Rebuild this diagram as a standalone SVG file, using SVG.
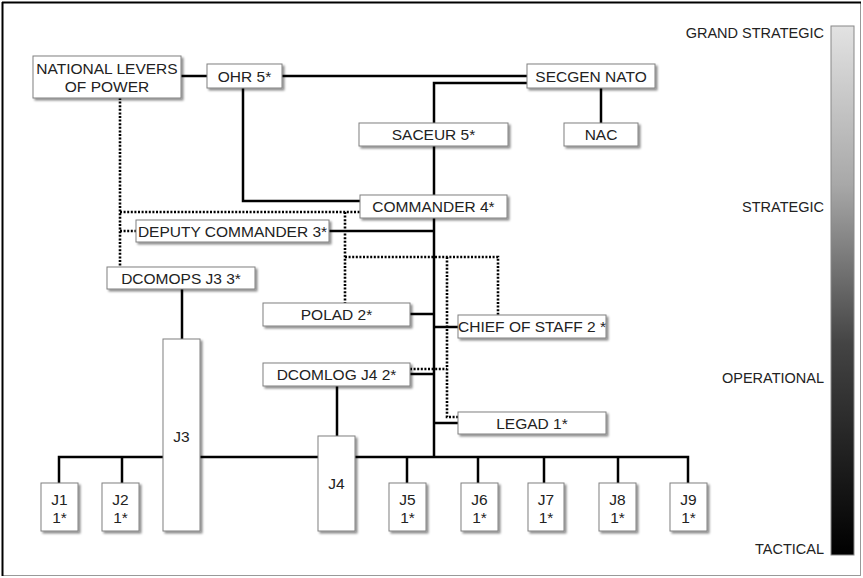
<svg xmlns="http://www.w3.org/2000/svg" width="863" height="578" viewBox="0 0 863 578">
<style>
.box{fill:#fff;stroke:#808080;stroke-width:1;filter:url(#sh)}
.t{font-family:"Liberation Sans",Arial,sans-serif;font-size:15.5px;fill:#222;text-anchor:middle}
.lv{font-family:"Liberation Sans",Arial,sans-serif;font-size:14.5px;fill:#222;text-anchor:end}
.s{fill:none;stroke:#000;stroke-width:2.5}
.d{fill:none;stroke:#000;stroke-width:2.6;stroke-dasharray:2 1.6}
</style>
<defs>
<filter id="sh" x="-20%" y="-20%" width="140%" height="140%">
<feDropShadow dx="2" dy="2" stdDeviation="1" flood-color="#000" flood-opacity="0.45"/>
</filter>
<linearGradient id="g" x1="0" y1="0" x2="0" y2="1">
<stop offset="0" stop-color="#e2e2e2"/>
<stop offset="0.3" stop-color="#a8a8a8"/>
<stop offset="0.6" stop-color="#444"/>
<stop offset="1" stop-color="#000"/>
</linearGradient>
</defs>
<rect x="0" y="0" width="863" height="578" fill="#fff"/>
<rect x="2.5" y="2.5" width="858" height="573" fill="none" stroke="#999" stroke-width="1"/>
<path d="M2,2.5 H861 M2.5,2 V576" stroke="#000" stroke-width="2" fill="none"/>

<g id="connectors">
<path class="s" d="M181,76 H207 M282,76 H527 M527,83 H434 V123 M434,146 V195 M601,87 V123 M243,88 V201 H360 M434,218 V457 M329,231 H434 M182,289 V339 M410,314 H434 M434,327 H458 M410,374 H434 M434,423 H458 M337,386 V436 M59,483 V457 H688 V483 M122,457 V483 M407,457 V483 M478,457 V483 M544,457 V483 M618,457 V483"/>
<path class="d" d="M120,98 V267 M120,212 H360 M120,231 H136 M345,212 V303 M345,257 H498 V315 M447,257 V417 H458 M410,369 H447"/>
</g>

<g id="nlp"><rect class="box" x="33" y="56" width="148" height="42"/><text class="t" x="107" y="74">NATIONAL LEVERS</text><text class="t" x="107" y="92">OF POWER</text></g>
<g id="ohr"><rect class="box" x="207" y="64" width="75" height="24"/><text class="t" x="244.5" y="82">OHR 5*</text></g>
<g id="secgen"><rect class="box" x="527" y="64" width="128" height="24"/><text class="t" x="591" y="82">SECGEN NATO</text></g>
<g id="saceur"><rect class="box" x="359" y="123" width="149" height="23"/><text class="t" x="433.5" y="140">SACEUR 5*</text></g>
<g id="nac"><rect class="box" x="564" y="123" width="74" height="23"/><text class="t" x="601" y="140">NAC</text></g>
<g id="commander"><rect class="box" x="360" y="195" width="147" height="23"/><text class="t" x="433.5" y="212">COMMANDER 4*</text></g>
<g id="deputy"><rect class="box" x="136" y="220" width="193" height="22"/><text class="t" x="232.5" y="236.5">DEPUTY COMMANDER 3*</text></g>
<g id="dcomops"><rect class="box" x="107" y="267" width="148" height="22"/><text class="t" x="181" y="283.5">DCOMOPS J3 3*</text></g>
<g id="polad"><rect class="box" x="263" y="303" width="147" height="23"/><text class="t" x="336.5" y="320">POLAD 2*</text></g>
<g id="cos"><rect class="box" x="458" y="315" width="148" height="23"/><text class="t" x="532" y="332">CHIEF OF STAFF 2 *</text></g>
<g id="dcomlog"><rect class="box" x="263" y="363" width="147" height="23"/><text class="t" x="336.5" y="380">DCOMLOG J4 2*</text></g>
<g id="legad"><rect class="box" x="458" y="412" width="148" height="22"/><text class="t" x="532" y="428.5">LEGAD 1*</text></g>
<g id="j3"><rect class="box" x="163" y="339" width="37" height="192"/><text class="t" x="181.5" y="442">J3</text></g>
<g id="j4"><rect class="box" x="318" y="436" width="37" height="95"/><text class="t" x="336.5" y="489">J4</text></g>
<g id="j1"><rect class="box" x="41" y="483" width="37" height="48"/><text class="t" x="59.5" y="505">J1</text><text class="t" x="59.5" y="523">1*</text></g>
<g id="j2"><rect class="box" x="102" y="483" width="37" height="48"/><text class="t" x="120.5" y="505">J2</text><text class="t" x="120.5" y="523">1*</text></g>
<g id="j5"><rect class="box" x="389" y="483" width="37" height="48"/><text class="t" x="407.5" y="505">J5</text><text class="t" x="407.5" y="523">1*</text></g>
<g id="j6"><rect class="box" x="461" y="483" width="37" height="48"/><text class="t" x="479.5" y="505">J6</text><text class="t" x="479.5" y="523">1*</text></g>
<g id="j7"><rect class="box" x="528" y="483" width="36" height="48"/><text class="t" x="546" y="505">J7</text><text class="t" x="546" y="523">1*</text></g>
<g id="j8"><rect class="box" x="599" y="483" width="37" height="48"/><text class="t" x="617.5" y="505">J8</text><text class="t" x="617.5" y="523">1*</text></g>
<g id="j9"><rect class="box" x="670" y="483" width="37" height="48"/><text class="t" x="688.5" y="505">J9</text><text class="t" x="688.5" y="523">1*</text></g>

<g id="scale">
<rect x="831" y="26" width="23" height="529" fill="url(#g)" stroke="#888" stroke-width="1"/>
<text class="lv" x="824" y="38">GRAND STRATEGIC</text>
<text class="lv" x="824" y="212">STRATEGIC</text>
<text class="lv" x="824" y="383">OPERATIONAL</text>
<text class="lv" x="824" y="554">TACTICAL</text>
</g>
</svg>
